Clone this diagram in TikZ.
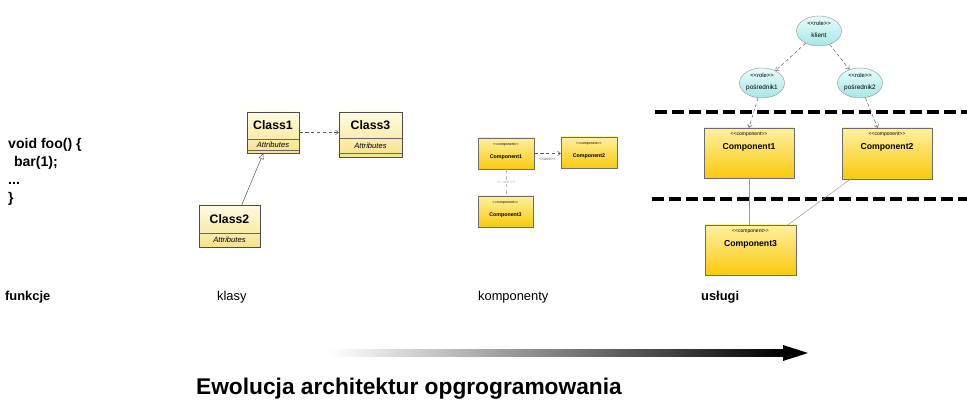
\documentclass[tikz,border=0pt]{standalone}
\usepackage{fontspec}
\setmainfont{Liberation Sans}
\usetikzlibrary{arrows.meta,fit,shapes.geometric}

\definecolor{classtop}{HTML}{FFFBE2}
\definecolor{classbot}{HTML}{F6E28C}
\definecolor{comptop}{HTML}{FFF0A0}
\definecolor{compbot}{HTML}{F9C90C}
\definecolor{roletop}{HTML}{EAFBFB}
\definecolor{rolebot}{HTML}{A6E6E6}

\tikzset{
    classbox/.style={draw=black!70, inner sep=0pt, top color=classtop, bottom color=classbot},
    compbox/.style={draw=gray!85!black, inner sep=0pt, top color=comptop, bottom color=compbot},
    rolenode/.style={ellipse, draw=gray!80, inner sep=0pt, minimum width=1.35cm, minimum height=0.9cm,
        top color=roletop, bottom color=rolebot},
    depline/.style={dash pattern=on 3pt off 2pt, gray!70!black, -{Straight Barb[length=2.5pt,width=4pt]}},
    layerline/.style={line width=2.8pt, dash pattern=on 10pt off 4.5pt},
    label/.style={anchor=west, font=\fontsize{11}{13}\selectfont}
}

\begin{document}
\begin{tikzpicture}[x=0.03cm,y=-0.03cm]
        % 1. Fix the canvas (pixel grid of the picture)
        \useasboundingbox (0,0) rectangle (967,405);

        % 2. Function code
        \node[anchor=north west, align=left, inner sep=0pt,
              font=\bfseries\fontsize{12}{15.3}\selectfont] (code) at (8,138)
            {void foo() \{\\\hspace{5pt}bar(1);\\...\\\}};

        % 3. Classes
        \node[classbox, fit={(247,112) (299,153)}] (class1) {};
        \node[classbox, fit={(339,112) (402,157)}] (class3) {};
        \node[classbox, fit={(199,205) (260,247)}] (class2) {};
        \draw[black!60] (247,139) -- (299,139) (247,150) -- (299,150);
        \draw[black!60] (339,138) -- (402,138) (339,153) -- (402,153);
        \draw[black!60] (199,233) -- (260,233);
        \node[font=\bfseries\fontsize{10.5}{12}\selectfont] (name1) at (273,125.5) {Class1};
        \node[font=\bfseries\fontsize{10.5}{12}\selectfont] (name3) at (370.5,125) {Class3};
        \node[font=\bfseries\fontsize{10.5}{12}\selectfont] (name2) at (229.5,219) {Class2};
        \node[font=\itshape\fontsize{6.5}{8}\selectfont] (attr1) at (273,144.5) {Attributes};
        \node[font=\itshape\fontsize{6.5}{8}\selectfont] (attr3) at (370.5,145.5) {Attributes};
        \node[font=\itshape\fontsize{6.5}{8}\selectfont] (attr2) at (229.5,240) {Attributes};

        \draw[depline] (class1.east) -- (class3.west |- class1.east);
        \draw[black!70, -{Triangle[open,length=5pt,width=4.5pt]}] (class2.60) -- (class1.245);

        % 4. Components
        \node[compbox, fit={(478,138) (534,169)}] (compA1) {};
        \node[compbox, fit={(561,137) (617,168)}] (compA2) {};
        \node[compbox, fit={(478,196) (533,227)}] (compA3) {};
        \foreach \c/\n in {compA1/Component1, compA2/Component2, compA3/Component3} {
            \node[font=\fontsize{3}{3.5}\selectfont, below=1pt] (\c st) at (\c.north) {<{}<component>{}>};
            \node[font=\bfseries\fontsize{4.5}{5}\selectfont, below=0pt] (\c nm) at (\c st.south) {\n};
        }
        \draw[depline] (compA1.east) -- (compA2.west |- compA1.east)
            node[midway, below=0pt, font=\fontsize{3.5}{4}\selectfont] (useA) {<{}<use>{}>};
        \draw[dashed, gray!60] (compA1.south) -- (compA1.south |- compA3.north)
            node[midway, fill=white, inner sep=0.5pt, font=\fontsize{3.5}{4}\selectfont] (useB) {<{}< use >{}>};

        % 5. Services: roles
        \node[rolenode] (klient) at (819,31) {};
        \node[rolenode] (pos1) at (762,83) {};
        \node[rolenode] (pos2) at (860,83) {};
        \foreach \r/\n in {klient/klient, pos1/pośrednik1, pos2/pośrednik2} {
            \node[font=\fontsize{5}{6}\selectfont, below=1.5pt] (\r st) at (\r.north) {<{}<role>{}>};
            \node[font=\fontsize{5.5}{6}\selectfont] (\r nm) at ([yshift=-4pt]\r.center) {\n};
        }
        \draw[depline] (klient) -- (pos1);
        \draw[depline] (klient) -- (pos2);

        % 6. Services: layers and components
        \draw[layerline] (655,112) -- (967,112);
        \draw[layerline] (652,199) -- (967,199);

        \node[compbox, fit={(704,128) (794,178)}] (compB1) {};
        \node[compbox, fit={(842,128) (932,179)}] (compB2) {};
        \node[compbox, fit={(705,225) (796,275)}] (compB3) {};
        \foreach \c/\n in {compB1/Component1, compB2/Component2, compB3/Component3} {
            \node[font=\fontsize{4.3}{5}\selectfont, below=0.5pt] (\c st) at (\c.north) {<{}<component>{}>};
            \node[font=\bfseries\fontsize{7.4}{8}\selectfont, below=-1.5pt] (\c nm) at (\c st.south) {\n};
        }
        \draw[depline] (pos1.255) -- (compB1.north);
        \draw[depline] (pos2.290) -- (compB2.110);
        \draw[gray!80] (compB1.south) -- (compB1.south |- compB3.north);
        \draw[gray!80] (compB2.215) -- (compB3.34);

        % 7. Stage labels
        \node[label, font=\bfseries\fontsize{11}{13}\selectfont] (funkcje) at (1,297) {funkcje};
        \node[label] (klasy) at (213,297) {klasy};
        \node[label] (komponenty) at (474,297) {komponenty};
        \node[label, font=\bfseries\fontsize{11}{13}\selectfont] (uslugi) at (697,297) {usługi};

        % 8. Evolution arrow and title
        \shade[left color=white, middle color=black!25, right color=black] (330,349.5) rectangle (785,356.5);
        \fill (783,345) -- (808,353) -- (783,361) -- cycle;
        \node[anchor=west, font=\bfseries\fontsize{19.4}{23}\selectfont] (title) at (192,389) {Ewolucja architektur opgrogramowania};

    \end{tikzpicture}
\end{document}
